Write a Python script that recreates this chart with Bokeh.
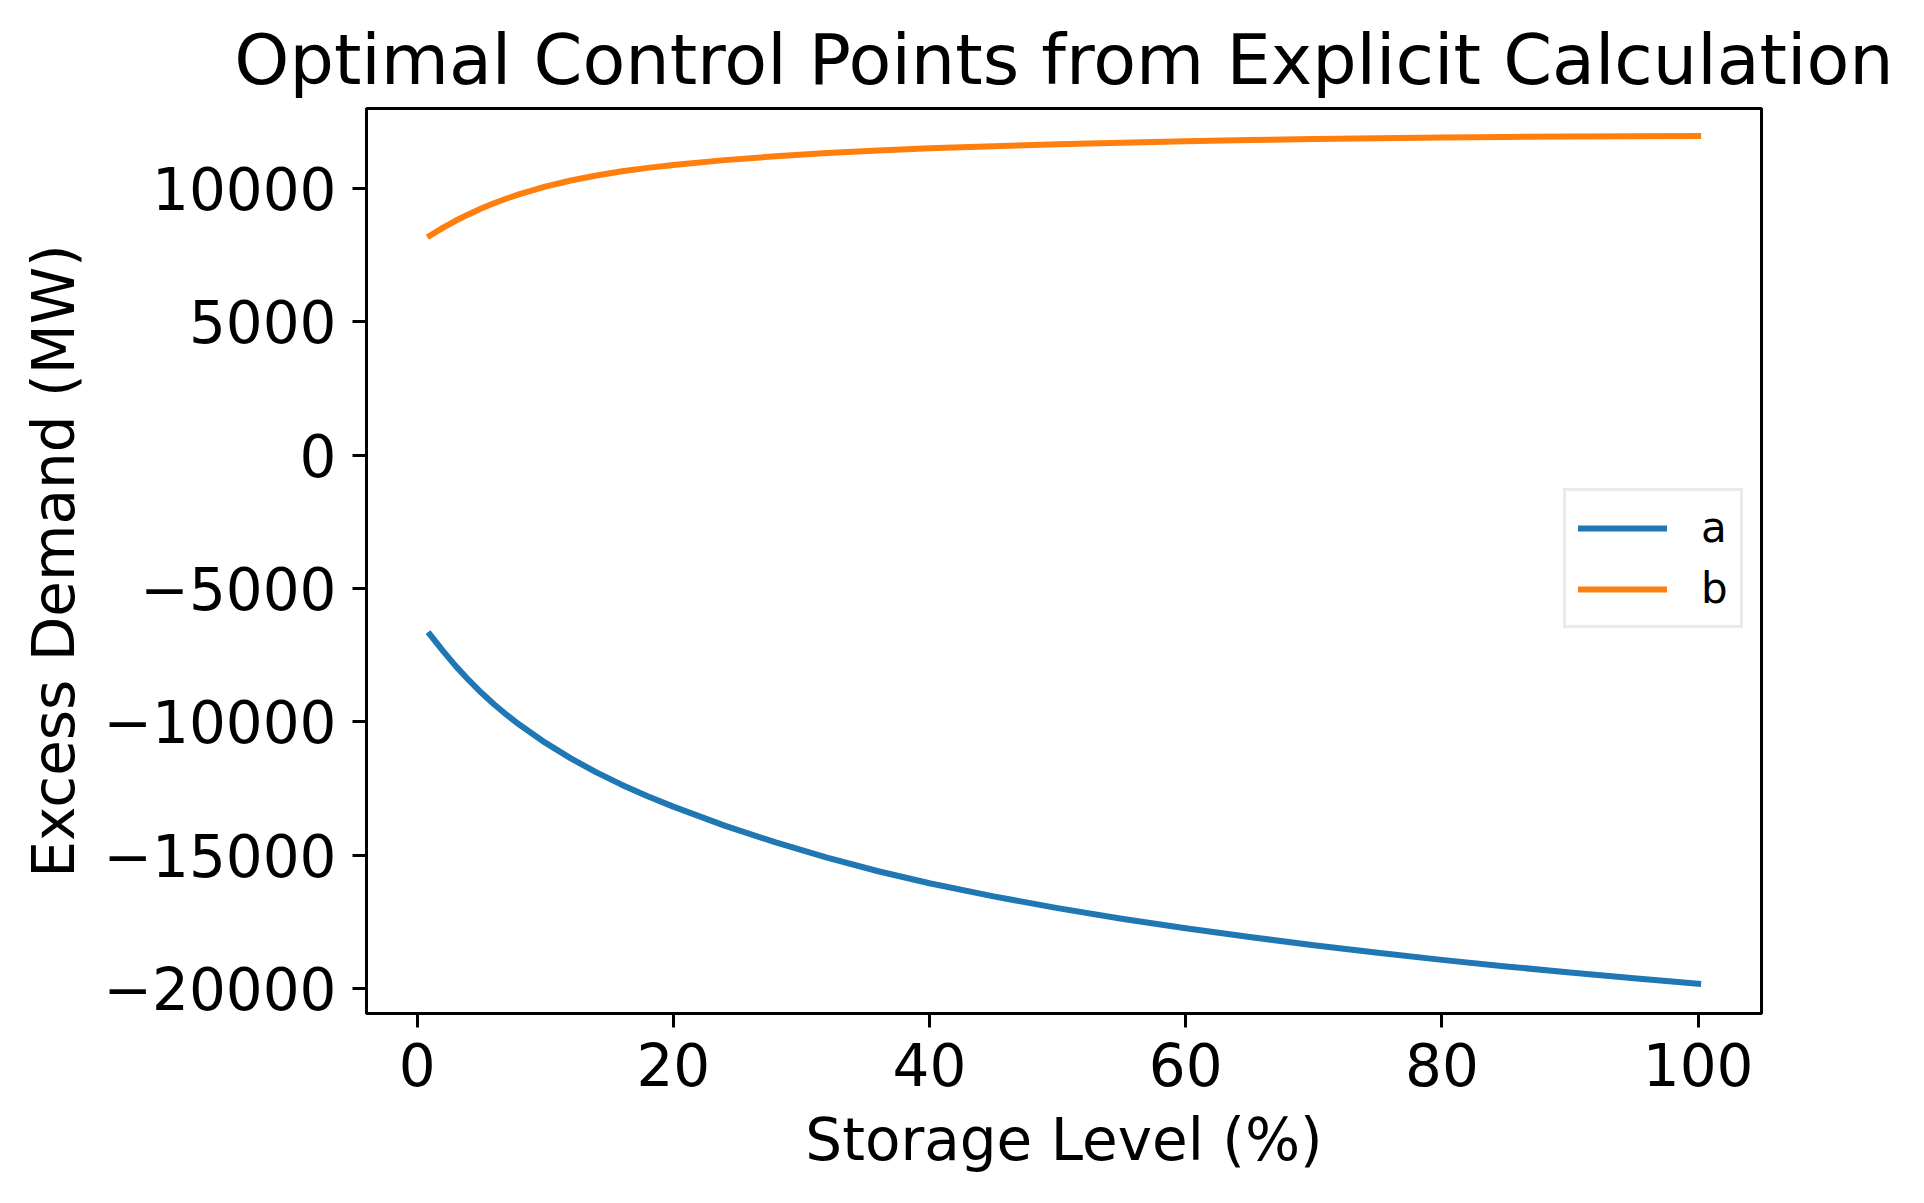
from bokeh.plotting import figure
from bokeh.models import Range1d, FixedTicker, Legend, LegendItem
from bokeh.embed import file_html
from bokeh.resources import INLINE

# ---- data ----
storage_level = [1, 2, 3, 4, 5, 6, 7, 8, 10, 12, 14, 16, 18, 20, 24, 28, 32, 36,
                 40, 45, 50, 55, 60, 65, 70, 75, 80, 85, 90, 95, 100]
a_values = [-6720, -7330, -7900, -8420, -8900, -9340, -9740, -10110, -10780, -11370,
            -11894, -12364, -12788, -13178, -13890, -14522, -15090, -15602,
            -16050, -16545, -16985, -17380, -17740, -18070, -18375, -18660,
            -18925, -19170, -19400, -19615, -19820]
b_values = [8230, 8525, 8790, 9030, 9248, 9446, 9626, 9790, 10070, 10300,
            10490, 10645, 10775, 10885, 11065, 11210, 11330, 11430,
            11510, 11590, 11660, 11720, 11772, 11817, 11855, 11887,
            11913, 11935, 11952, 11965, 11974]
series_names = ["a", "b"]
series_colors = ["#1f77b4", "#ff7f0e"]
x_ticks = [0, 20, 40, 60, 80, 100]
y_ticks = [-20000, -15000, -10000, -5000, 0, 5000, 10000]
y_tick_labels = ["\u221220000", "\u221215000", "\u221210000", "\u22125000", "0", "5000", "10000"]

FONT = "DejaVu Sans"

p = figure(frame_width=1395, frame_height=905,
           output_backend="svg", toolbar_location=None,
           x_range=Range1d(-3.95, 104.95), y_range=Range1d(-20936, 13001),
           min_border_left=366, min_border_right=134, min_border_top=108, min_border_bottom=160,
           title="Optimal Control Points from Explicit Calculation")

p.title.text_font = FONT
p.title.text_font_size = "70px"
p.title.text_font_style = "normal"
p.title.text_color = "black"
p.title.align = "center"
p.title.standoff = 15

p.background_fill_color = "white"
p.border_fill_color = "white"
p.xgrid.visible = False
p.ygrid.visible = False
p.outline_line_color = "black"
p.outline_line_width = 3
p.outline_line_alpha = 1.0

for ax in (p.xaxis[0], p.yaxis[0]):
    ax.axis_line_width = 3
    ax.axis_line_color = "black"
    ax.major_tick_line_width = 3
    ax.major_tick_line_color = "black"
    ax.major_tick_out = 14
    ax.major_tick_in = 0
    ax.minor_tick_out = 0
    ax.minor_tick_in = 0
    ax.major_label_text_font = FONT
    ax.major_label_text_font_size = "58px"
    ax.major_label_text_color = "black"
    ax.axis_label_text_font = FONT
    ax.axis_label_text_font_size = "58px"
    ax.axis_label_text_font_style = "normal"
    ax.axis_label_text_color = "black"

p.xaxis.ticker = FixedTicker(ticks=x_ticks)
p.yaxis.ticker = FixedTicker(ticks=y_ticks)
p.yaxis.major_label_overrides = dict(zip(y_ticks, y_tick_labels))
p.xaxis.axis_label = "Storage Level (%)"
p.yaxis.axis_label = "Excess Demand (MW)"
p.xaxis.major_label_standoff = 15
p.yaxis.major_label_standoff = 16
p.xaxis.axis_label_standoff = 17
p.yaxis.axis_label_standoff = 12

renderers = []
for vals, color in zip([a_values, b_values], series_colors):
    r = p.line(storage_level, vals, line_color=color, line_width=6,
               line_cap="square", line_join="round")
    renderers.append(r)

legend = Legend(items=[LegendItem(label=n, renderers=[r]) for n, r in zip(series_names, renderers)],
                location=(1197, 385))
legend.label_text_font = FONT
legend.label_text_font_size = "42px"
legend.label_text_color = "black"
legend.glyph_width = 89
legend.glyph_height = 40
legend.label_height = 40
legend.spacing = 12
legend.padding = 12
legend.margin = 0
legend.label_standoff = 34
legend.border_line_color = "#d6d6d6"
legend.border_line_width = 3
legend.background_fill_color = "white"
legend.background_fill_alpha = 0.8
p.add_layout(legend)

open("out.html", "w").write(file_html(p, INLINE))
